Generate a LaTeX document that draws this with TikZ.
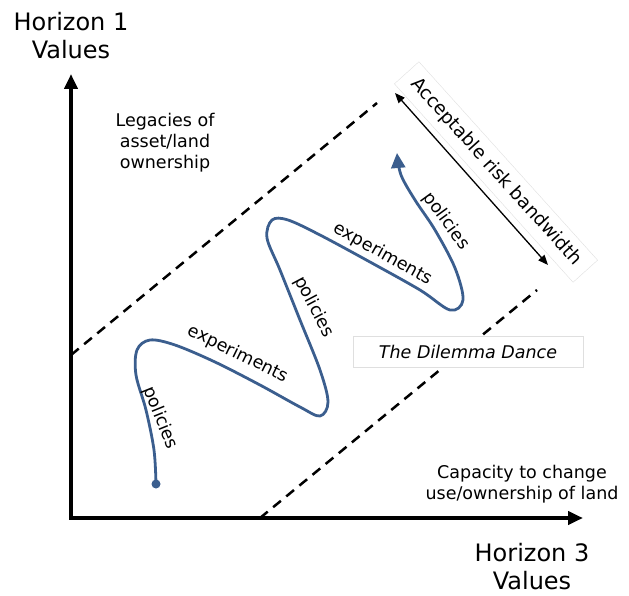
\documentclass[tikz,border=0pt]{standalone}
\usepackage{fontspec}
\setmainfont{DejaVu Sans}
\usetikzlibrary{arrows.meta}
\definecolor{dancecol}{RGB}{59,94,142}
\begin{document}
\begin{tikzpicture}[x=1pt,y=-1pt,
	axis/.style={line width=4pt, line join=miter, {Triangle[length=15pt,width=13pt]}-{Triangle[length=15pt,width=13pt]}},
	bound/.style={line width=2.5pt, dash pattern=on 10pt off 7pt},
	dance/.style={color=dancecol, line width=2.8pt},
	lbl/.style={font=\fontsize{17.5}{20}\selectfont, inner sep=0pt},
	big/.style={font=\fontsize{24}{28}\selectfont, align=center, inner sep=1pt},
	note/.style={font=\fontsize{17.5}{21}\selectfont, align=center}]
			\useasboundingbox (0,0) rectangle (629,596);
			\coordinate (o) at (71,518);
			\coordinate (ytop) at (71,74);
			\coordinate (xend) at (583,518);
			\draw [axis] (ytop) -- (o) -- (xend);
			\node [big] (h1) at (71,36) {Horizon 1\\Values};
			\node [big] (h3) at (532,567) {Horizon 3\\Values};
			\node [note] (legacy) at (165,143) {Legacies of\\asset/land\\ownership};
			\node [note] (capacity) at (522,484) {Capacity to change\\use/ownership of land};
			\coordinate (upA) at (71,355);
			\coordinate (upB) at (377,103);
			\coordinate (loA) at (260,518);
			\coordinate (loB) at (537,290);
			\draw [bound] (upA) -- (upB);
			\draw [bound] (loA) -- (loB);
			\node [draw=gray!25, fill=white, minimum width=230pt, minimum height=31pt, font=\fontsize{17.5}{20}\selectfont\itshape] (dance) at (468,352) {The Dilemma Dance};
			\node [draw=gray!25, minimum width=267pt, minimum height=33pt, rotate=-48, font=\fontsize{18.5}{21}\selectfont] (band) at (496,172) {Acceptable risk bandwidth};
			\coordinate (bandtop) at (395,93);
			\coordinate (bandbot) at (548,265);
			\draw [line width=1.3pt, {Triangle[length=10pt,width=8pt]}-{Triangle[length=10pt,width=8pt]}] (bandtop) -- (bandbot);
			\fill [dancecol] (156,484) circle (4.5pt) coordinate (start);
			\draw [dance, -{Triangle[length=15pt,width=14pt]}] plot [smooth, tension=0.55] coordinates {(156,484) (154,450) (146,410) (136,375) (137,350) (150,340) (175,345) (215,362) (260,385) (300,407) (320,416) (328,402) (320,370) (300,320) (280,270) (267,238) (272,220) (288,220) (320,235) (370,262) (420,290) (450,310) (463,300) (455,268) (435,230) (415,200) (401,175) (397,153)};
			\node [lbl, rotate=-68] (pol1) at (160,418) {policies};
			\node [lbl, rotate=-26] (exp1) at (238,354) {experiments};
			\node [lbl, rotate=-62] (pol2) at (314,307) {policies};
			\node [lbl, rotate=-29] (exp2) at (383,254) {experiments};
			\node [lbl, rotate=-54] (pol3) at (446,221) {policies};
\end{tikzpicture}
\end{document}
